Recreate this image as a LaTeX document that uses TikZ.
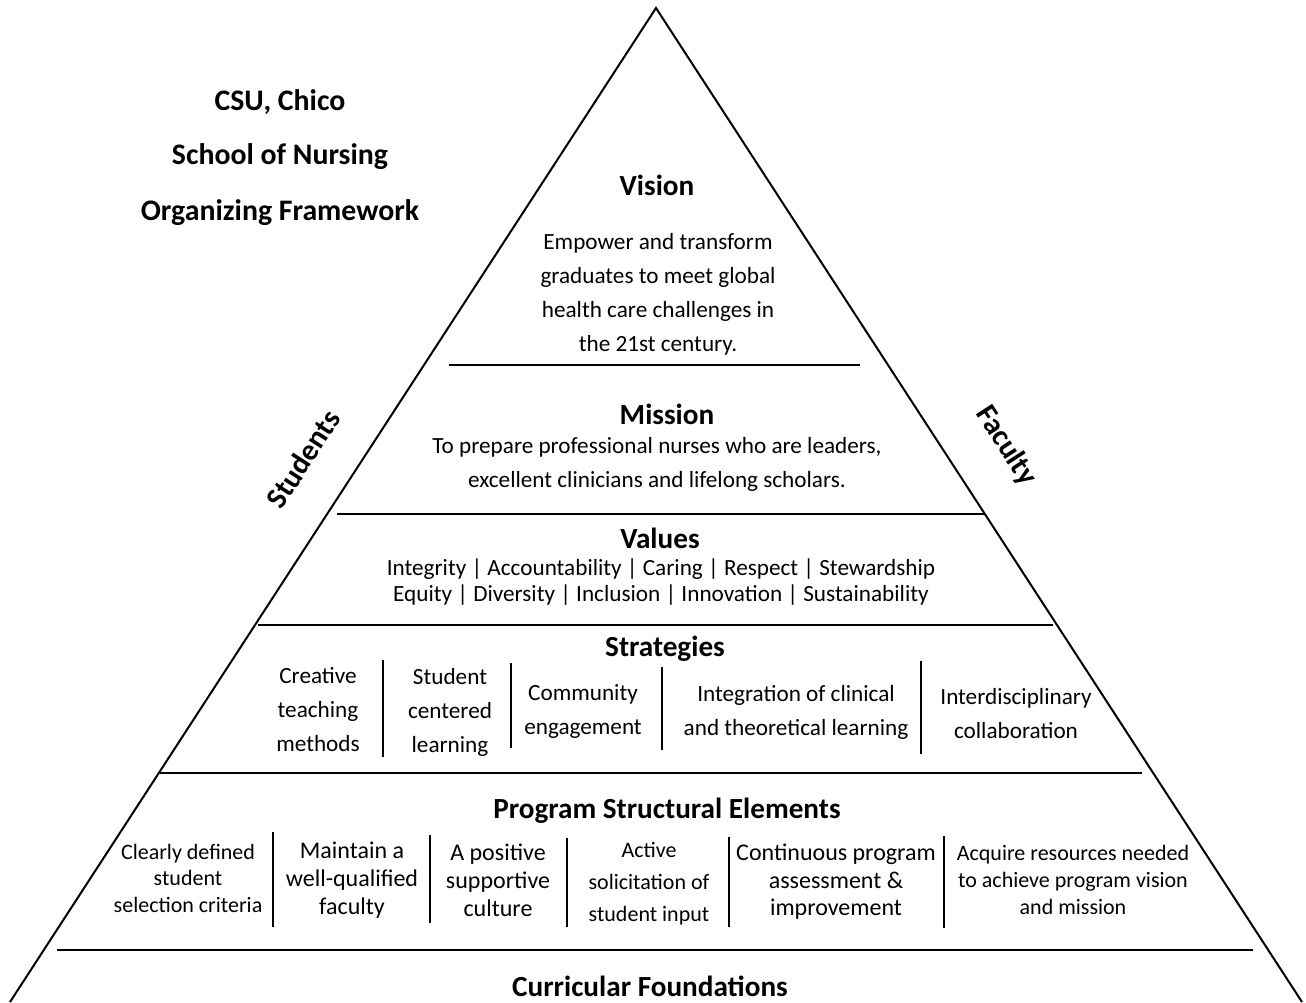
\documentclass[tikz,border=0pt]{standalone}
\usepackage{fontspec}
\setmainfont{Carlito}
\tikzset{
  heading/.style={inner sep=0pt, font=\fontsize{14.6}{17}\selectfont\bfseries},
  body/.style={inner sep=0pt, align=center, font=\fontsize{11.6}{17}\selectfont},
  small/.style={inner sep=0pt, align=center, font=\fontsize{11}{13.25}\selectfont},
  big/.style={inner sep=0pt, align=center, font=\fontsize{12}{14}\selectfont},
  tier/.style={line width=1.25pt},
  divider/.style={line width=1pt}
}
\begin{document}
\begin{tikzpicture}[x=0.5pt, y=-0.5pt]
    \useasboundingbox (0,0) rectangle (1306,1002);
    % Pyramid
    \draw[line width=1pt] (10,1002) -- (656,8) -- (1302,1002);
    \node[heading, font=\fontsize{15}{17}\selectfont\bfseries, rotate=57] (students) at (303,459) {Students};
    \node[heading, font=\fontsize{15}{17}\selectfont\bfseries, rotate=-57] (faculty) at (1006,446) {Faculty};
    % Title
    \node[heading, font=\fontsize{14.9}{17}\selectfont\bfseries] (csu) at (280,102) {CSU, Chico};
    \node[heading, font=\fontsize{14.9}{17}\selectfont\bfseries] (school) at (280,157) {School of Nursing};
    \node[heading, font=\fontsize{14.9}{17}\selectfont\bfseries] (framework) at (280,213) {Organizing Framework};
    % Vision
    \node[heading] (vision) at (657,185) {Vision};
    \node[body] (visiontext) at (658,294) {Empower and transform\\graduates to meet global\\health care challenges in\\the 21st century.};
    \draw[tier] (449,365) -- (860,365);
    % Mission
    \node[heading] (mission) at (667,414) {Mission};
    \node[body] (missiontext) at (657,464) {To prepare professional nurses who are leaders,\\excellent clinicians and lifelong scholars.};
    \draw[tier] (337,514) -- (985,514);
    % Values
    \node[heading] (values) at (660,538) {Values};
    \node[body, font=\fontsize{11.6}{13}\selectfont] (valuestext) at (661,582) {Integrity | Accountability | Caring | Respect | Stewardship\\Equity | Diversity | Inclusion | Innovation | Sustainability};
    \draw[tier] (258,625) -- (1053,625);
    % Strategies
    \node[heading] (strategies) at (665,649) {Strategies};
    \node[body] (creative) at (318,710) {Creative\\teaching\\methods};
    \draw[divider] (383,660) -- (383,757);
    \node[body] (centered) at (450,712) {Student\\centered\\learning};
    \draw[divider] (511,663) -- (511,748);
    \node[body] (community) at (583,711) {Community\\engagement};
    \draw[divider] (662,667) -- (662,750);
    \node[body] (integration) at (796,712) {Integration of clinical\\and theoretical learning};
    \draw[divider] (921,661) -- (921,754);
    \node[body] (interdisc) at (1016,714) {Interdisciplinary\\collaboration};
    \draw[tier] (160,773) -- (1142,773);
    % Program Structural Elements
    \node[heading] (program) at (667,811) {Program Structural Elements};
    \node[small] (selection) at (188,878) {Clearly defined\\student\\selection criteria};
    \draw[divider] (273,832) -- (273,927);
    \node[big] (qualified) at (352,880) {Maintain a\\well-qualified\\faculty};
    \draw[divider] (430,835) -- (430,923);
    \node[big] (culture) at (498,880) {A positive\\supportive\\culture};
    \draw[divider] (567,838) -- (567,927);
    \node[small, font=\fontsize{11}{16}\selectfont] (solicitation) at (649,884) {Active\\solicitation of\\student input};
    \draw[divider] (729,837) -- (729,927);
    \node[big, font=\fontsize{12}{13.75}\selectfont] (assessment) at (836,882) {Continuous program\\assessment \&\\improvement};
    \draw[divider] (944,836) -- (944,928);
    \node[small, font=\fontsize{11}{13.5}\selectfont] (resources) at (1073,880) {Acquire resources needed\\to achieve program vision\\and mission};
    \draw[tier] (57,950) -- (1253,950);
    % Curricular Foundations
    \node[heading] (curricular) at (650,986) {Curricular Foundations};
\end{tikzpicture}
\end{document}
